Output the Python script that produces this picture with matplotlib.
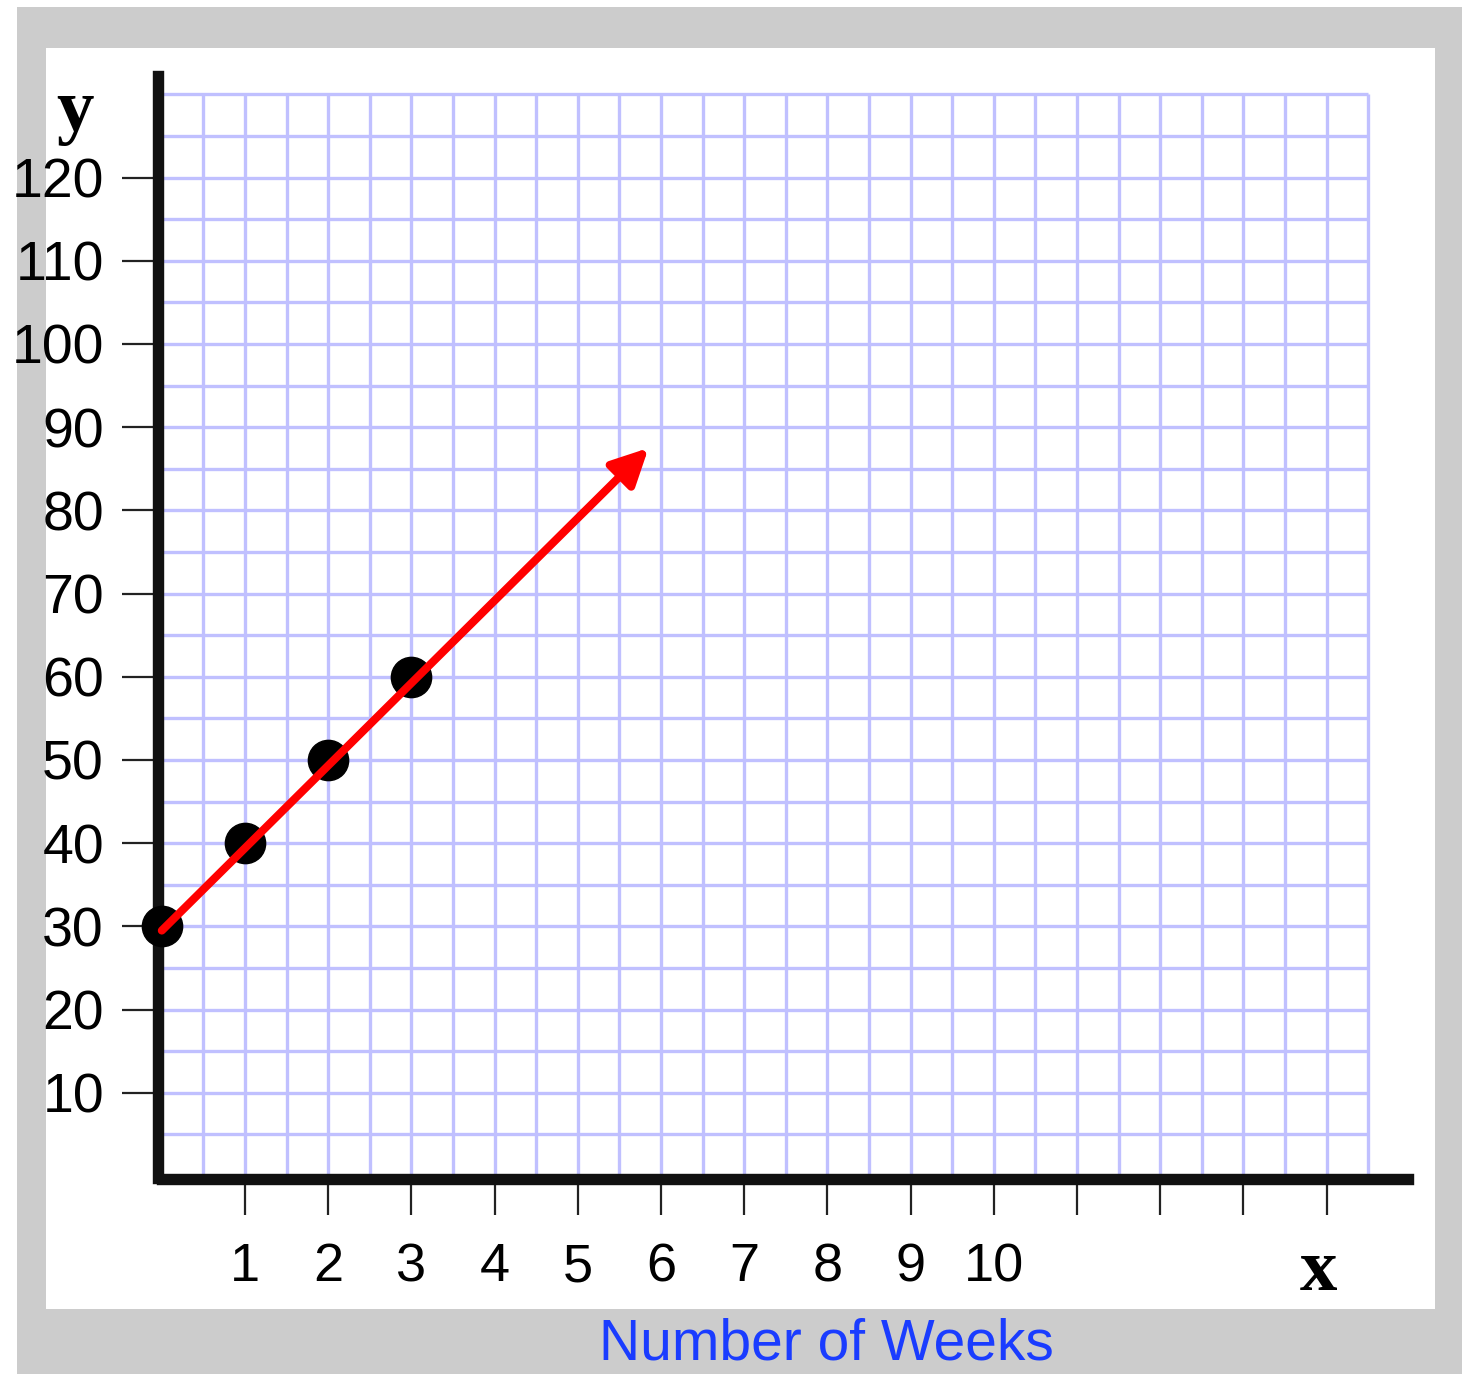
import matplotlib
matplotlib.use("Agg")
import matplotlib.pyplot as plt
from matplotlib.patches import Rectangle

# ---- data ----
weeks = [0, 1, 2, 3]
values = [30, 40, 50, 60]
trend_start = (0, 29.5)
trend_end = (5.85, 87.5)
x_ticks = list(range(1, 15))
x_tick_labels = [str(i) for i in range(1, 11)] + ["", "", "", ""]
y_ticks = list(range(10, 130, 10))
y_tick_labels = [str(v) for v in y_ticks]
grid_x = [i * 0.5 for i in range(1, 30)]      # 0.5 .. 14.5
grid_y = [i * 5 for i in range(1, 27)]         # 5 .. 130

W, H = 1462, 1374
fig = plt.figure(figsize=(W / 100, H / 100), dpi=100)
fig.patch.set_facecolor("white")

# gray frame and inner white panel
fig.add_artist(Rectangle((17 / W, 0), (W - 17) / W, (H - 7) / H,
                         transform=fig.transFigure, facecolor="#cccccc",
                         edgecolor="none", zorder=-3))
fig.add_artist(Rectangle((46 / W, (H - 1309) / H), (1435 - 46) / W, (1309 - 48) / H,
                         transform=fig.transFigure, facecolor="white",
                         edgecolor="none", zorder=-2))

# axes placement: pixel mapping x0 -> 161.8 px, 83.2 px/unit; y0 -> 1176 px, 8.32 px/unit
px_l, px_r, py_t, py_b = 100, 1420, 60, 1230
ax = fig.add_axes([px_l / W, (H - py_b) / H, (px_r - px_l) / W, (py_b - py_t) / H])
ax.set_xlim((px_l - 161.8) / 83.2, (px_r - 161.8) / 83.2)
ax.set_ylim((1176 - py_b) / 8.32, (1176 - py_t) / 8.32)
ax.patch.set_visible(False)

grid_col = "#c0c0ff"
ax.vlines(grid_x, 0, 130, colors=grid_col, linewidth=2.4, zorder=1)
ax.hlines(grid_y, 0, 14.5, colors=grid_col, linewidth=2.4, zorder=1)

# spines
for s in ["top", "right"]:
    ax.spines[s].set_visible(False)
ax.spines["left"].set_position(("data", -0.045))
ax.spines["bottom"].set_position(("data", -0.36))
ax.spines["left"].set_bounds(-0.2, 132.2)
ax.spines["bottom"].set_bounds(0.0, 14.98)
for s in ["left", "bottom"]:
    ax.spines[s].set_linewidth(8.2)
    ax.spines[s].set_color("#111111")
    ax.spines[s].set_zorder(3)

ax.set_xticks(x_ticks, labels=x_tick_labels)
ax.set_yticks(y_ticks, labels=y_tick_labels)
ax.set_xticks(x_ticks, minor=True)
ax.set_yticks(y_ticks, minor=True)
ax.tick_params(axis="y", which="major", direction="out", length=26, width=1.6,
               color="#222222", pad=13, labelsize=40)
ax.tick_params(axis="x", which="major", direction="out", length=26, width=1.6,
               color="#222222", pad=19.5, labelsize=39)
ax.tick_params(axis="both", which="minor", direction="in", length=12, width=1.6,
               color="#222222")
for lab in ax.get_xticklabels() + ax.get_yticklabels():
    lab.set_fontfamily("Liberation Sans")

# data points
ax.plot(weeks, values, "o", color="black", markersize=29, zorder=4, clip_on=False)

# trend arrow
ax.annotate("", xy=trend_end, xytext=trend_start,
            arrowprops=dict(arrowstyle="-|>", color="red", lw=5.8,
                            mutation_scale=55, shrinkA=0, shrinkB=0),
            zorder=5)

# axis letters
fig.text(75 / W, (H - 112) / H, "y", fontfamily="Liberation Serif", fontweight="bold",
         fontsize=54, ha="center", va="center")
fig.text(1318 / W, (H - 1272) / H, "x", fontfamily="Liberation Serif", fontweight="bold",
         fontsize=54, ha="center", va="center")

fig.text(826 / W, (H - 1344) / H, "Number of Weeks", fontfamily="Liberation Sans",
         fontsize=41, color="#1a3cff", ha="center", va="center")

fig.savefig("out.png", dpi=100)
